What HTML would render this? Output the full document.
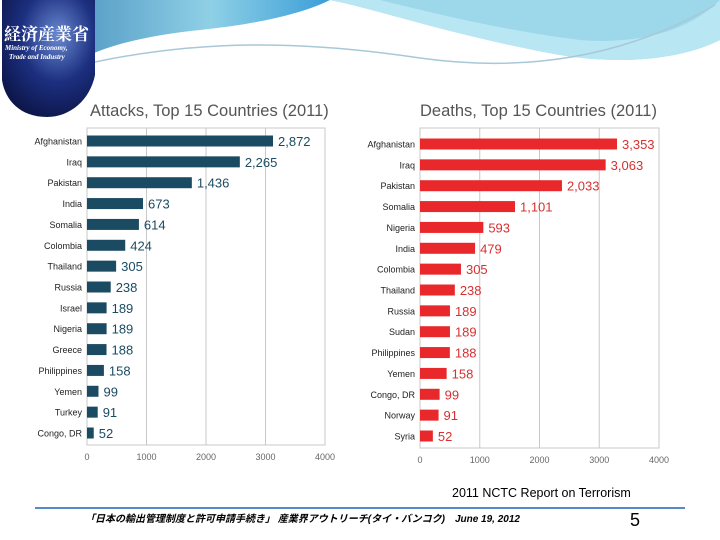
<!DOCTYPE html>
<html><head><meta charset="utf-8"><style>
body{margin:0;width:720px;height:540px;overflow:hidden;background:#fff;font-family:"Liberation Sans","Noto Sans CJK JP",sans-serif;}
svg{position:absolute;left:0;top:0}
</style></head><body>
<svg width="720" height="540">
<defs>
<linearGradient id="wave" x1="0" y1="0" x2="1" y2="0"><stop offset="0" stop-color="#5aa0c8"/><stop offset="0.5" stop-color="#8fd0e6"/><stop offset="1" stop-color="#3a9ed8"/></linearGradient>
<radialGradient id="logo" cx="0.6" cy="0.3" r="0.8"><stop offset="0" stop-color="#6a8ad0"/><stop offset="0.5" stop-color="#1c2f80"/><stop offset="1" stop-color="#0a1240"/></radialGradient>
</defs>
<g>
<path d="M90,0 L720,0 L720,40 C680,60 620,65 560,55 C450,35 380,10 330,0 Z" fill="#9cd8ea"/>
<path d="M90,0 L330,0 C300,15 250,25 200,30 C150,35 110,45 90,55 Z" fill="url(#wave)"/>
<path d="M330,0 C380,10 450,35 560,55 C620,65 680,60 720,40 L720,0 C690,30 640,45 580,40 C500,30 420,10 380,0Z" fill="#b8e6f2"/>
<path d="M95,62 C200,40 300,40 420,58 C520,72 620,60 715,5" stroke="#a8c8d8" stroke-width="1.5" fill="none"/>
</g>
<g>
<path d="M2,0 L95,0 L95,75 C90,100 70,117 47,117 C20,117 5,100 2,80Z" fill="url(#logo)"/>
<text x="4" y="40" font-size="17" font-weight="bold" fill="#fff" font-family="'Noto Serif CJK SC',serif">経済産業省</text>
<text x="5" y="50" font-size="7" font-style="italic" font-weight="bold" fill="#fff" font-family="'Liberation Serif',serif">Ministry of Economy,</text>
<text x="9" y="59" font-size="7" font-style="italic" font-weight="bold" fill="#fff" font-family="'Liberation Serif',serif">Trade and Industry</text>
</g>
<text x="90" y="116" font-size="16.5" fill="#555">Attacks, Top 15 Countries (2011)</text>
<text x="420" y="116" font-size="16.5" fill="#555">Deaths, Top 15 Countries (2011)</text>
<g id="left"></g>
<g id="right"></g>
<text x="452" y="497" font-size="12.5" fill="#000">2011  NCTC Report on Terrorism</text>
<line x1="35" y1="508" x2="685" y2="508" stroke="#1e64b4" stroke-width="1.5"/>
<text x="85" y="522" font-size="10" font-style="italic" font-weight="bold" fill="#000">「日本の輸出管理制度と許可申請手続き」 産業界アウトリーチ(タイ・バンコク)　June 19,  2012</text>
<text x="630" y="526" font-size="18" fill="#000">5</text>
</svg>
<script>
const attackCats=["Afghanistan","Iraq","Pakistan","India","Somalia","Colombia","Thailand","Russia","Israel","Nigeria","Greece","Philippines","Yemen","Turkey","Congo, DR"];
const attackVals=[2872,2265,1436,673,614,424,305,238,189,189,188,158,99,91,52];
const deathCats=["Afghanistan","Iraq","Pakistan","Somalia","Nigeria","India","Colombia","Thailand","Russia","Sudan","Philippines","Yemen","Congo, DR","Norway","Syria"];
const deathVals=[3353,3063,2033,1101,593,479,305,238,189,189,188,158,99,91,52];
const ticks=[0,1000,2000,3000,4000];
const NS="http://www.w3.org/2000/svg";
function mk(p,t,a){const e=document.createElementNS(NS,t);for(const k in a)e.setAttribute(k,a[k]);p.appendChild(e);return e;}
function chart(g,cats,vals,o){
  const x=v=>o.x0+v*(o.x1-o.x0)/4000;
  const bw=v=>o.k*Math.pow(v,o.p);
  const y=i=>o.y0+i*(o.y1-o.y0)/(cats.length-1);
  const fr=mk(g,'rect',{x:o.x0,y:o.top,width:o.x1-o.x0,height:o.bot-o.top,fill:'none',stroke:'#c8c8c8'});
  
  
  ticks.forEach(t=>{
    const l=mk(g,'line',{x1:x(t),x2:x(t),y1:o.top,y2:o.bot,stroke:'#c8c8c8'});
    
    
    const tx=mk(g,'text',{x:x(t),y:o.bot+15,'font-size':9,fill:'#666','text-anchor':'middle'});tx.textContent=t;
    
    
  });
  cats.forEach((c,i)=>{
    const w=bw(vals[i]);
    const r=mk(g,'rect',{x:o.x0,y:y(i)-o.bh/2,width:w,height:o.bh,fill:o.col});
    
    
    const lb=mk(g,'text',{x:o.x0-5,y:y(i)+3.5,'font-size':9,fill:'#222','text-anchor':'end'});lb.textContent=c;
    
    
    const vl=mk(g,'text',{x:o.x0+w+5,y:y(i)+5,'font-size':13,fill:o.vcol});vl.textContent=vals[i].toLocaleString('en-US');
    
    
  });
}
chart(document.getElementById('left'),attackCats,attackVals,{x0:87,x1:325,y0:141,y1:433,top:128,bot:445,bh:11,col:'#1b4b63',vcol:'#1b4b63',p:0.827,k:186/Math.pow(2872,0.827)});
chart(document.getElementById('right'),deathCats,deathVals,{x0:420,x1:659,y0:144,y1:436,top:128,bot:448,bh:11,col:'#e8282b',vcol:'#d83030',p:0.655,k:197/Math.pow(3353,0.655)});
</script>
</body></html>
